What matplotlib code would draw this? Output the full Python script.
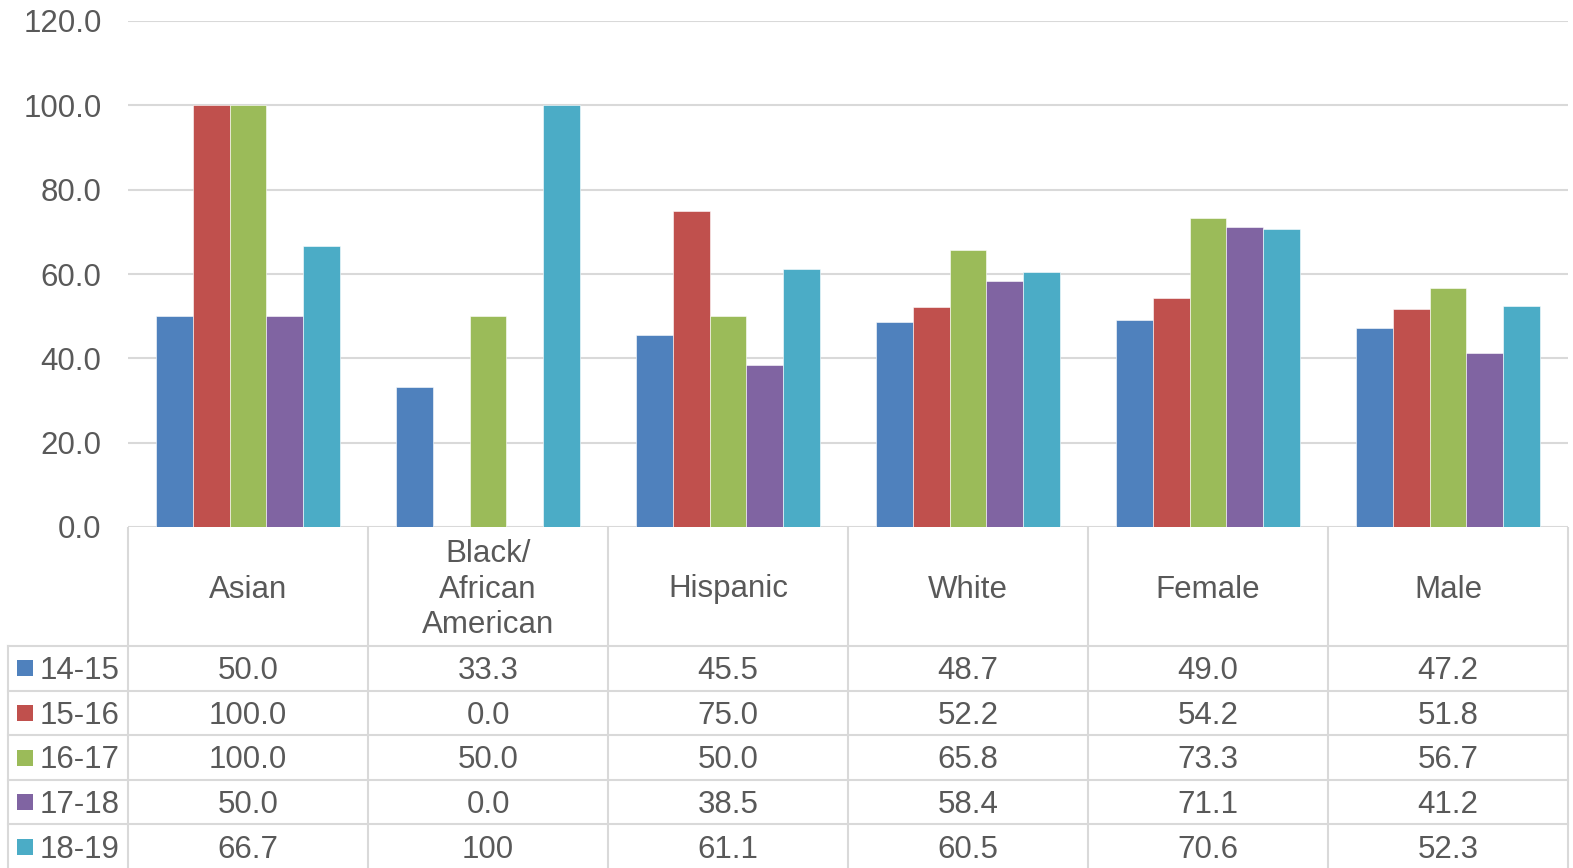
import matplotlib
matplotlib.use('Agg')
import matplotlib.pyplot as plt
from matplotlib import ticker

plt.rcParams['font.family'] = ['Liberation Sans', 'DejaVu Sans']

categories = ['Asian', 'Black/\nAfrican\nAmerican', 'Hispanic', 'White', 'Female', 'Male']
series = ['14-15', '15-16', '16-17', '17-18', '18-19']
v_14_15 = [50.0, 33.3, 45.5, 48.7, 49.0, 47.2]
v_15_16 = [100.0, 0.0, 75.0, 52.2, 54.2, 51.8]
v_16_17 = [100.0, 50.0, 50.0, 65.8, 73.3, 56.7]
v_17_18 = [50.0, 0.0, 38.5, 58.4, 71.1, 41.2]
v_18_19 = [66.7, 100.0, 61.1, 60.5, 70.6, 52.3]
values = [v_14_15, v_15_16, v_16_17, v_17_18, v_18_19]
# the source table prints this one cell without a decimal
label_override = {(4, 1): '100'}

colors = ['#4F81BD', '#C0504D', '#9BBB59', '#8064A2', '#4BACC6']
text_color = '#595959'
grid_color = '#D9D9D9'
fs = 22.5

W, H = 1573, 868
fig = plt.figure(figsize=(W / 100, H / 100), dpi=100)

# plot area in pixels
px_l, px_r, px_t, px_b = 128, 1568, 21, 527
ax = fig.add_axes([px_l / W, 1 - px_b / H, (px_r - px_l) / W, (px_b - px_t) / H])

n = len(categories)
ns = len(series)
gap = 1.5
bw = 1.0 / (ns + gap)
for j, vals in enumerate(values):
    xs = [i - 0.5 + bw * (gap / 2 + j + 0.5) for i in range(n)]
    ax.bar(xs, vals, width=bw, color=colors[j], edgecolor='white', linewidth=0.4, zorder=3)

ax.set_xlim(-0.5, n - 0.5)
ax.set_ylim(0, 120)
ax.yaxis.set_major_locator(ticker.MultipleLocator(20))
ax.yaxis.set_major_formatter(ticker.FormatStrFormatter('%.1f'))
ax.grid(axis='y', color=grid_color, linewidth=1.5, zorder=0)
ax.set_xticks([])
for s in ax.spines.values():
    s.set_visible(False)
ax.tick_params(axis='y', length=0, pad=19, labelsize=fs, labelcolor=text_color)

# data table drawn below the plot
tb_l = 8
head_b = 646
row_h = 44.6
dy = 3  # text sits a little low in the cells
tab = fig.add_axes([0, 0, 1, 1 - px_b / H])
tab.set_xlim(0, W)
tab.set_ylim(H, px_b)
tab.axis('off')

cell_w = (px_r - px_l) / n
lw = 1.5
# header block
tab.plot([px_l, px_l], [px_b, H], color=grid_color, lw=lw)
for i in range(n):
    x0 = px_l + cell_w * (i + 1)
    tab.plot([x0, x0], [px_b, H], color=grid_color, lw=lw)
    tab.text(px_l + cell_w * (i + 0.5), (px_b + head_b) / 2 + dy, categories[i],
             ha='center', va='center', fontsize=fs, color=text_color, linespacing=1.26)
tab.plot([tb_l, tb_l], [head_b, H], color=grid_color, lw=lw)
for r in range(ns + 1):
    y = head_b + row_h * r
    tab.plot([tb_l, px_r], [y, y], color=grid_color, lw=lw)

for j, name in enumerate(series):
    yc = head_b + row_h * (j + 0.5)
    tab.add_patch(plt.Rectangle((17, yc - 8), 16, 16, color=colors[j], lw=0))
    tab.text(40, yc + dy, name, ha='left', va='center', fontsize=fs, color=text_color)
    for i in range(n):
        lab = label_override.get((j, i), '%.1f' % values[j][i])
        tab.text(px_l + cell_w * (i + 0.5), yc + dy, lab, ha='center', va='center',
                 fontsize=fs, color=text_color)

fig.savefig('out.png', dpi=100)
